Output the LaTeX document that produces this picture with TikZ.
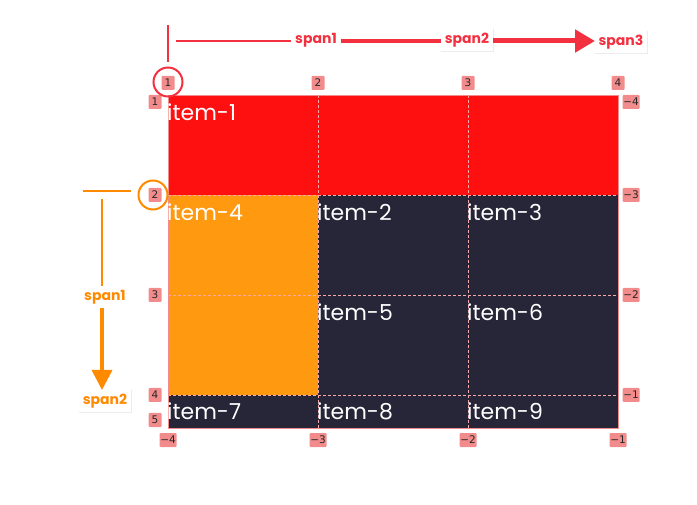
\documentclass[tikz,border=0pt]{standalone}
\usepackage{fontspec}
\setmainfont{Poppins}
\newfontfamily\numfont{DejaVu Sans}
\usetikzlibrary{arrows.meta,shadows}
\definecolor{cred}{HTML}{FF1010}
\definecolor{corange}{HTML}{FF9A10}
\definecolor{cdark}{HTML}{272538}
\definecolor{cpink}{HTML}{F28C8C}
\definecolor{carrowred}{HTML}{F2303F}
\definecolor{carroworange}{HTML}{FF8A00}
\tikzset{
  numlbl/.style={fill=cpink, rounded corners=1pt, inner sep=0pt, minimum width=13pt, minimum height=14pt, font=\numfont\fontsize{10.5}{10.5}\selectfont, text=black!85},
  itemtxt/.style={anchor=north west, inner sep=0pt, text=white, font=\fontsize{22}{22}\selectfont},
  gridline/.style={draw=cpink!75!white, line width=0.7pt, dash pattern=on 3pt off 2pt},
  spanred/.style={fill=white, text=carrowred, font=\bfseries\fontsize{14}{14}\selectfont, inner xsep=4pt, inner ysep=4pt, drop shadow={opacity=0.15, shadow xshift=0.5pt, shadow yshift=-0.5pt}},
  spanorange/.style={fill=white, text=carroworange, font=\bfseries\fontsize{14}{14}\selectfont, inner xsep=4pt, inner ysep=4pt, drop shadow={opacity=0.15, shadow xshift=0.5pt, shadow yshift=-0.5pt}},
}
\begin{document}
\begin{tikzpicture}[x=1pt,y=-1pt]
\useasboundingbox (0,0) rectangle (697,505);
% cells
\fill[cred] (168,95) rectangle (618,195);
\fill[corange] (168,195) rectangle (318,395);
\fill[cdark] (318,195) rectangle (618,428);
\fill[cdark] (168,395) rectangle (318,428);
% grid lines
\draw[gridline] (318,95) -- (318,428);
\draw[gridline] (468,95) -- (468,428);
\draw[gridline] (168,195) -- (618,195);
\draw[gridline] (168,295) -- (618,295);
\draw[gridline] (168,395) -- (618,395);
\draw[cpink, line width=0.8pt] (168,95) rectangle (618,428);
% items
\node[itemtxt] (i1) at (167,104) {item-1};
\node[itemtxt] (i4) at (167,204) {item-4};
\node[itemtxt] (i2) at (317,204) {item-2};
\node[itemtxt] (i3) at (467,204) {item-3};
\node[itemtxt] (i5) at (317,304) {item-5};
\node[itemtxt] (i6) at (467,304) {item-6};
\node[itemtxt] (i7) at (167,403) {item-7};
\node[itemtxt] (i8) at (317,403) {item-8};
\node[itemtxt] (i9) at (467,403) {item-9};
% top labels
\node[numlbl] (t1) at (168,83) {1};
\node[numlbl] (t2) at (318,83) {2};
\node[numlbl] (t3) at (468,83) {3};
\node[numlbl] (t4) at (618,83) {4};
% left labels
\node[numlbl] (l1) at (155,102) {1};
\node[numlbl] (l2) at (155,195) {2};
\node[numlbl] (l3) at (155,295) {3};
\node[numlbl] (l4) at (155,395) {4};
\node[numlbl] (l5) at (155,420) {5};
% right labels
\node[numlbl, minimum width=17pt] (r1) at (631,102) {−4};
\node[numlbl, minimum width=17pt] (r2) at (631,195) {−3};
\node[numlbl, minimum width=17pt] (r3) at (631,295) {−2};
\node[numlbl, minimum width=17pt] (r4) at (631,395) {−1};
% bottom labels
\node[numlbl, minimum width=17pt] (b1) at (168,440) {−4};
\node[numlbl, minimum width=17pt] (b2) at (318,440) {−3};
\node[numlbl, minimum width=17pt] (b3) at (468,440) {−2};
\node[numlbl, minimum width=17pt] (b4) at (618,440) {−1};
% circles
\node[draw=carrowred, circle, line width=2pt, minimum size=29pt] (c1) at (168,82) {};
\node[draw=carroworange, circle, line width=2pt, minimum size=29pt] (c2) at (153,195) {};
% top red arrow
\coordinate (vt) at (168,25);
\coordinate (vb) at (168,62);
\draw[carrowred, line width=2pt] (vt) -- (vb);
\coordinate (hs) at (176,41);
\node[spanred] (s1) at (316,40) {span1};
\node[spanred] (s2) at (467,40) {span2};
\node[spanred] (s3) at (621,42) {span3};
\draw[carrowred, line width=2pt] (hs) -- (s1.west |- hs);
\draw[carrowred, line width=3.5pt] (s1.east |- hs) -- (s2.west |- hs);
\draw[carrowred, line width=5pt, -{Triangle[length=20pt,width=22pt]}] (s2.east |- hs) -- (595,41);
% orange arrow
\coordinate (oh1) at (83,191);
\coordinate (oh2) at (131,191);
\draw[carroworange, line width=2pt] (oh1) -- (oh2);
\coordinate (ov) at (102,199);
\node[spanorange] (o1) at (105,297) {span1};
\node[spanorange] (o2) at (105,401) {span2};
\draw[carroworange, line width=2.5pt] (ov) -- (ov |- o1.north);
\draw[carroworange, line width=3.5pt, -{Triangle[length=20pt,width=20pt]}] (ov |- o1.south) -- (102,390);
\end{tikzpicture}
\end{document}
